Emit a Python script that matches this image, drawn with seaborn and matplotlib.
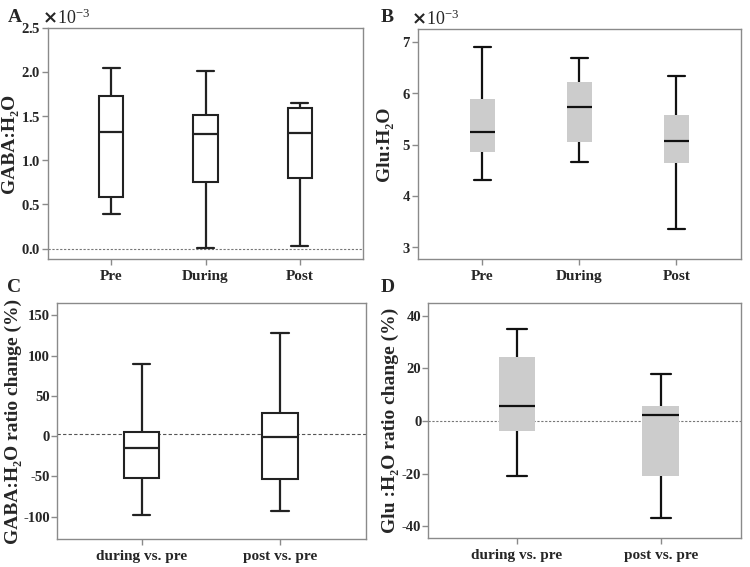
import numpy as np
import pandas as pd
import matplotlib
matplotlib.use("Agg")
import matplotlib.pyplot as plt
import seaborn as sns
from matplotlib.ticker import ScalarFormatter

# five-number summaries (min, Q1, median, Q3, max)
phases = ["Pre", "During", "Post"]
gaba_pre = [0.386e-3, 0.583e-3, 1.318e-3, 1.723e-3, 2.045e-3]
gaba_during = [0.011e-3, 0.754e-3, 1.292e-3, 1.511e-3, 2.015e-3]
gaba_post = [0.034e-3, 0.803e-3, 1.314e-3, 1.591e-3, 1.644e-3]

glu_pre = [4.31e-3, 4.857e-3, 5.24e-3, 5.883e-3, 6.89e-3]
glu_during = [4.656e-3, 5.058e-3, 5.734e-3, 6.214e-3, 6.69e-3]
glu_post = [3.351e-3, 4.649e-3, 5.065e-3, 5.571e-3, 6.338e-3]

comparisons = ["during vs. pre", "post vs. pre"]
gaba_chg_during = [-97.9, -51.9, -15.0, 4.9, 89.5]
gaba_chg_post = [-92.5, -53.1, -0.5, 28.5, 128.4]
glu_chg_during = [-20.9, -3.6, 5.6, 24.2, 34.9]
glu_chg_post = [-36.8, -21.0, 2.4, 5.9, 18.0]

sns.set_style("white")
plt.rcParams['font.family'] = ['Liberation Serif', 'DejaVu Serif']
plt.rcParams['font.weight'] = 'bold'
plt.rcParams['axes.unicode_minus'] = False

fig = plt.figure(figsize=(7.5, 5.67), dpi=100)
axA = fig.add_axes([0.064, 0.543, 0.420, 0.408])
axB = fig.add_axes([0.557, 0.544, 0.431, 0.404])
axC = fig.add_axes([0.076, 0.049, 0.412, 0.416])
axD = fig.add_axes([0.571, 0.051, 0.417, 0.414])


def make_df(labels, groups):
    rows = []
    for lab, vals in zip(labels, groups):
        for v in vals:
            rows.append((lab, v))
    return pd.DataFrame(rows, columns=["group", "value"])


def draw(ax, labels, groups, grey, cap):
    df = make_df(labels, groups)
    if grey:
        face, edge, lw = "#cccccc", "#cccccc", 0
        lc = "#111111"
    else:
        face, edge, lw = "white", "#222222", 1.5
        lc = "#222222"
    sns.boxplot(data=df, x="group", y="value", order=labels, ax=ax,
                whis=(0, 100), width=0.255, color=face,
                boxprops=dict(facecolor=face, edgecolor=edge, linewidth=lw),
                medianprops=dict(color=lc, linewidth=1.6),
                whiskerprops=dict(color=lc, linewidth=1.6),
                capprops=dict(color=lc, linewidth=1.6),
                showfliers=False)
    # whisker caps
    for ln in ax.lines:
        xd = np.asarray(ln.get_xdata(), dtype=float)
        yd = np.asarray(ln.get_ydata(), dtype=float)
        if len(xd) == 2 and yd[0] == yd[1] and 0 < abs(xd[1] - xd[0]) < 0.2:
            c = (xd[0] + xd[1]) / 2
            ln.set_xdata([c - cap, c + cap])
    ax.set_xlabel("")
    for s in ax.spines.values():
        s.set_color("#8a8a8a")
        s.set_linewidth(1.0)
        s.set_visible(True)
    ax.tick_params(axis="both", which="both", direction="out", length=4,
                   color="#8a8a8a", width=1, left=True, bottom=True)
    ax.tick_params(axis="x", labelsize=11, pad=4)
    ax.tick_params(axis="y", labelsize=10.5, pad=1)
    for t in ax.get_xticklabels() + ax.get_yticklabels():
        t.set_fontweight("bold")


# A
draw(axA, phases, [gaba_pre, gaba_during, gaba_post], grey=False, cap=0.09)
axA.set_xlim(-0.667, 2.667)
axA.set_ylim(-0.12e-3, 2.5e-3)
axA.set_yticks(np.arange(0, 2.6e-3, 0.5e-3))
fmt = ScalarFormatter(useMathText=True)
fmt.set_powerlimits((-2, 2))
axA.yaxis.set_major_formatter(fmt)
axA.axhline(0, color="#777777", linestyle=(0, (2, 1.5)), linewidth=0.8, zorder=0)
axA.set_ylabel("GABA:H₂O", fontsize=14, fontweight="bold", labelpad=2)

# B
draw(axB, phases, [glu_pre, glu_during, glu_post], grey=True, cap=0.09)
axB.set_xlim(-0.667, 2.667)
axB.set_ylim(2.78e-3, 7.24e-3)
axB.set_yticks(np.arange(3e-3, 7.5e-3, 1e-3))
fmt2 = ScalarFormatter(useMathText=True)
fmt2.set_powerlimits((-2, 2))
axB.yaxis.set_major_formatter(fmt2)
axB.set_ylabel("Glu:H₂O", fontsize=14, fontweight="bold", labelpad=6)

# C
draw(axC, comparisons, [gaba_chg_during, gaba_chg_post], grey=False, cap=0.062)
axC.set_xlim(-0.612, 1.622)
axC.set_ylim(-128, 165)
axC.set_yticks([-100, -50, 0, 50, 100, 150])
axC.axhline(2.5, color="#555555", linestyle=(0, (3, 2)), linewidth=0.8, zorder=0)
axC.set_ylabel("GABA:H₂O ratio change (%)", fontsize=14, fontweight="bold", labelpad=1)

# D
draw(axD, comparisons, [glu_chg_during, glu_chg_post], grey=True, cap=0.068)
axD.set_xlim(-0.616, 1.557)
axD.set_ylim(-44.4, 44.7)
axD.set_yticks([-40, -20, 0, 20, 40])
axD.axhline(0, color="#777777", linestyle=(0, (2, 1.5)), linewidth=0.8, zorder=0)
axD.set_ylabel("Glu :H₂O ratio change (%)", fontsize=14, fontweight="bold", labelpad=2)

for ax in [axA, axB]:
    off = ax.yaxis.get_offset_text()
    off.set_fontsize(13)
    off.set_fontweight("normal")
    off.set_x(-0.02)

for lab, x, y in [("A", 0.010, 0.962), ("B", 0.508, 0.962), ("C", 0.010, 0.485), ("D", 0.508, 0.485)]:
    fig.text(x, y, lab, fontsize=14, fontweight="bold")

fig.savefig("out.png", dpi=100)
